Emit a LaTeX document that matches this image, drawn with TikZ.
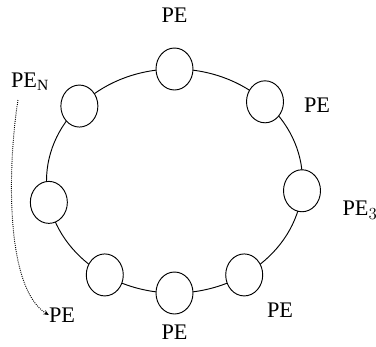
\documentclass[tikz,border=0pt]{standalone}
\usepackage{fontspec}
\setmainfont{Liberation Serif}
\usetikzlibrary{shapes.geometric, arrows.meta}
\tikzset{
  ring/.style={thick},
  proc/.style={ellipse, draw, thick, fill=white, minimum width=1.11cm, minimum height=1.26cm, inner sep=0pt},
  pelabel/.style={font=\fontsize{19}{19}\selectfont, inner sep=0pt},
  wrap/.style={densely dotted, thick, -{Stealth[length=1.6mm, width=1.4mm]}},
}

\begin{document}
\begin{tikzpicture}
  \useasboundingbox (-5.235,-4.95) rectangle (6.045,5.43);
  % ring
  \draw[ring] (0,0) ellipse [x radius=3.84cm, y radius=3.36cm];
  % processing elements
  \node[proc] (pe1) at ({3.84*cos(90)},{3.36*sin(90)}) {};
  \node[proc] (pe2) at ({3.84*cos(45)},{3.36*sin(45)}) {};
  \node[proc] (pe3) at ({3.84*cos(-5)},{3.36*sin(-5)}) {};
  \node[proc] (pe4) at ({3.84*cos(-57)},{3.36*sin(-57)}) {};
  \node[proc] (pe5) at ({3.84*cos(-90)},{3.36*sin(-90)}) {};
  \node[proc] (pe6) at ({3.84*cos(-123)},{3.36*sin(-123)}) {};
  \node[proc] (pe7) at ({3.84*cos(191)},{3.36*sin(191)}) {};
  \node[proc] (pe8) at ({3.84*cos(138)},{3.36*sin(138)}) {};
  % labels
  \node[pelabel] (l1) at (0,4.98) {PE};
  \node[pelabel] (l2) at (4.275,2.28) {PE};
  \node[pelabel] (l3) at (5.565,-0.87) {PE$_3$};
  \node[pelabel] (l4) at (3.165,-3.87) {PE};
  \node[pelabel] (l5) at (0,-4.53) {PE};
  \node[pelabel] (l6) at (-3.375,-4.02) {PE};
  \node[pelabel] (l8) at (-4.335,2.97) {PE$_\mathrm{N}$};
  % wrap-around
  \coordinate (w0) at (-4.695,2.43);
  \draw[wrap] (w0) .. controls (-5.0,0.5) and (-5.1,-3.2) .. (l6.west);
\end{tikzpicture}
\end{document}
